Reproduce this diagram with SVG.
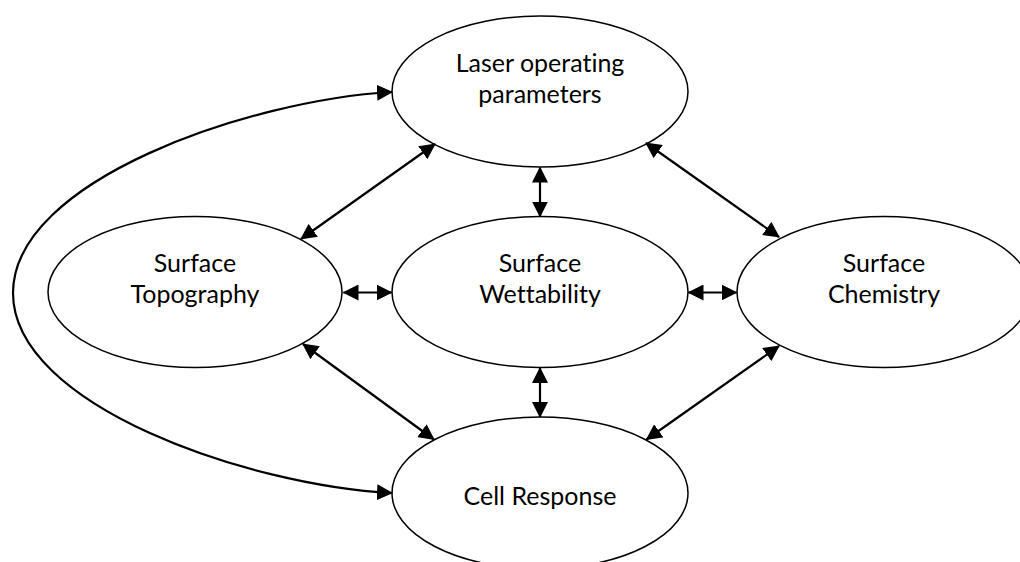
<svg xmlns="http://www.w3.org/2000/svg" width="1020" height="562" viewBox="0 0 1020 562">
  <style>
    .node ellipse { fill: #ffffff; stroke: #000000; stroke-width: 1.5; }
    .node text { font-family: Lato, "Liberation Sans", sans-serif; font-size: 25px; fill: #000000; text-anchor: middle; font-variant-ligatures: none; font-feature-settings: "liga" 0; }
    .link { fill: none; stroke: #000000; stroke-width: 2.2; marker-start: url(#head); marker-end: url(#head); }
  </style>
  <defs>
    <marker id="head" markerUnits="userSpaceOnUse" markerWidth="16" markerHeight="16" viewBox="0 0 16 16" refX="15" refY="8" orient="auto-start-reverse">
      <path d="M0,0 L16,8 L0,16 Z" fill="#000000"/>
    </marker>
  </defs>
  <rect width="1020" height="562" fill="#ffffff"/>

  <!-- nodes -->
  <g id="laser" class="node">
    <ellipse cx="540" cy="91.5" rx="148" ry="75.5"/>
    <text x="540" y="72">Laser operating</text>
    <text x="540" y="103">parameters</text>
  </g>
  <g id="topography" class="node">
    <ellipse cx="195" cy="292" rx="147" ry="75.5"/>
    <text x="195" y="272">Surface</text>
    <text x="195" y="303">Topography</text>
  </g>
  <g id="wettability" class="node">
    <ellipse cx="540" cy="292" rx="148" ry="75.5"/>
    <text x="540" y="272">Surface</text>
    <text x="540" y="303">Wettability</text>
  </g>
  <g id="chemistry" class="node">
    <ellipse cx="884" cy="292" rx="147" ry="75.5"/>
    <text x="884" y="272">Surface</text>
    <text x="884" y="303">Chemistry</text>
  </g>
  <g id="cell-response" class="node">
    <ellipse cx="540" cy="493" rx="148" ry="76"/>
    <text x="540" y="505">Cell Response</text>
  </g>

  <!-- connectors (all two-way) -->
  <g id="connectors">
    <line class="link" x1="435" y1="144" x2="301" y2="239"/>
    <line class="link" x1="540" y1="167.5" x2="540" y2="216.5"/>
    <line class="link" x1="646" y1="143" x2="779" y2="237"/>
    <line class="link" x1="343.5" y1="292.5" x2="391.5" y2="292.5"/>
    <line class="link" x1="688.5" y1="292.5" x2="736.5" y2="292.5"/>
    <line class="link" x1="303" y1="344" x2="434" y2="439.5"/>
    <line class="link" x1="540" y1="368" x2="540" y2="417"/>
    <line class="link" x1="779" y1="346" x2="646.5" y2="439.5"/>
    <path class="link" d="M392,92 C250,100 13,180 13,293 C13,406 250,486 392,493"/>
  </g>
</svg>
